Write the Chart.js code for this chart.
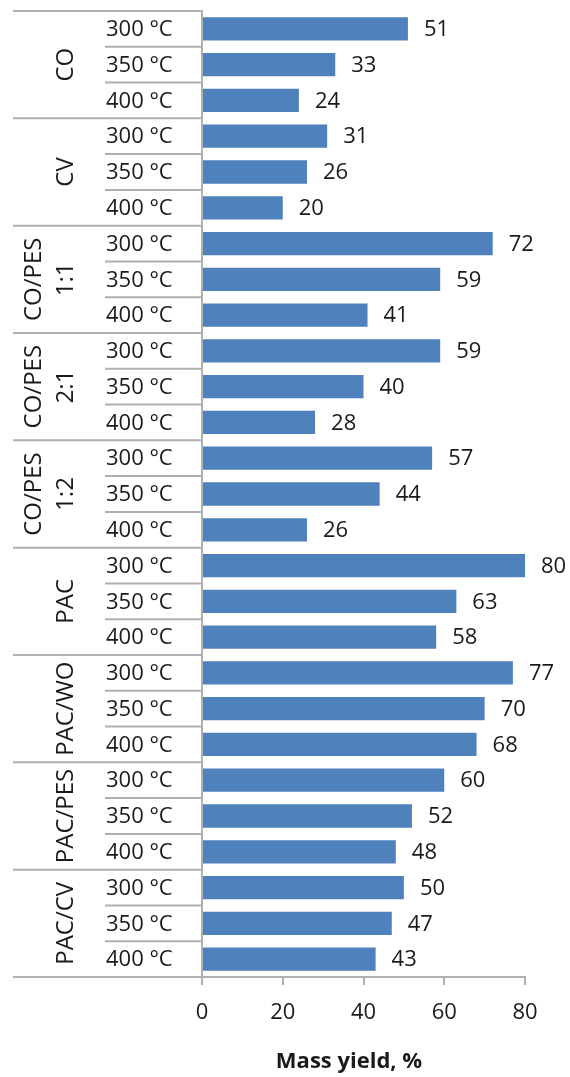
<!DOCTYPE html>
<html>
<head>
<meta charset="utf-8">
<script src="https://cdn.jsdelivr.net/npm/chart.js@4.4.1/dist/chart.umd.min.js"></script>
<style>
  html, body { margin: 0; padding: 0; background: #fff; }
  #wrap { width: 570px; height: 1077px; position: relative; }
</style>
</head>
<body>
<div id="wrap"><canvas id="c"></canvas></div>
<script>
// ---- data ----
const groups = [['CO'], ['CV'], ['CO/PES', '1:1'], ['CO/PES', '2:1'], ['CO/PES', '1:2'], ['PAC'], ['PAC/WO'], ['PAC/PES'], ['PAC/CV']];
const temps = ['300 °C', '350 °C', '400 °C'];
const yield300 = [51, 31, 72, 59, 57, 80, 77, 60, 50];
const yield350 = [33, 26, 59, 40, 44, 63, 70, 52, 47];
const yield400 = [24, 20, 41, 28, 26, 58, 68, 48, 43];
const xMin = 0, xMax = 80, xStep = 20;
const axisTitle = 'Mass yield, %';

// ---- build flat table ----
const labels = [];
const values = [];
const perTemp = [yield300, yield350, yield400];
groups.forEach((g, gi) => {
  temps.forEach((t, ti) => {
    labels.push(t);
    values.push(perTemp[ti][gi]);
  });
});

const FONT = 'Open Sans';
const TEXT = '#1a1a1a';
const LINE = '#b0b0b0';

const decor = {
  id: 'decor',
  afterDraw(chart) {
    const ctx = chart.ctx;
    const ys = chart.scales.y;
    const area = chart.chartArea;
    const n = labels.length;
    const centers = labels.map((_, i) => ys.getPixelForValue(i));
    const boundary = (i) => {
      if (i <= 0) return area.top;
      if (i >= n) return area.bottom;
      return (centers[i - 1] + centers[i]) / 2;
    };
    ctx.save();
    ctx.strokeStyle = LINE;
    ctx.lineWidth = 2;
    // separators
    for (let i = 0; i <= n; i++) {
      const y = boundary(i);
      const isGroup = i % temps.length === 0;
      ctx.beginPath();
      ctx.moveTo(isGroup ? 13 : 105, y);
      ctx.lineTo(area.left, y);
      ctx.stroke();
    }
    // sub labels
    ctx.fillStyle = TEXT;
    ctx.font = '22px "' + FONT + '"';
    ctx.textAlign = 'left';
    ctx.textBaseline = 'middle';
    labels.forEach((t, i) => ctx.fillText(t, 106, centers[i] + 1));
    // group labels (rotated)
    ctx.font = '24px "' + FONT + '"';
    ctx.textAlign = 'center';
    groups.forEach((g, gi) => {
      const y0 = boundary(gi * temps.length);
      const y1 = boundary((gi + 1) * temps.length);
      const cy = (y0 + y1) / 2;
      g.forEach((line, li) => {
        const cx = 65 - (g.length - 1 - li) * 32;
        ctx.save();
        ctx.translate(cx, cy);
        ctx.rotate(-Math.PI / 2);
        ctx.fillText(line, 0, 1);
        ctx.restore();
      });
    });
    // value labels
    ctx.font = '22px "' + FONT + '"';
    ctx.textAlign = 'left';
    const meta = chart.getDatasetMeta(0);
    meta.data.forEach((bar, i) => {
      ctx.fillText(String(values[i]), bar.x + 16, bar.y + 1);
    });
    // axis title
    ctx.font = 'bold 22px "' + FONT + '"';
    ctx.textAlign = 'center';
    ctx.fillText(axisTitle, 349, 1062);
    ctx.restore();
  }
};

new Chart(document.getElementById('c'), {
  type: 'bar',
  data: {
    labels: labels,
    datasets: [{
      data: values,
      backgroundColor: '#4f81bd',
      borderWidth: 0,
      categoryPercentage: 1.0,
      barPercentage: 0.65
    }]
  },
  options: {
    indexAxis: 'y',
    responsive: true,
    maintainAspectRatio: false,
    animation: false,
    layout: { padding: { top: 11, right: 45, left: 0, bottom: 0 } },
    plugins: { legend: { display: false }, tooltip: { enabled: false } },
    scales: {
      y: {
        type: 'category',
        ticks: { display: false },
        grid: { display: false },
        border: { display: true, color: LINE, width: 2 },
        afterFit(scale) { scale.width = 202; }
      },
      x: {
        min: xMin,
        max: xMax,
        ticks: {
          stepSize: xStep,
          padding: 15,
          color: TEXT,
          font: { family: FONT, size: 22 }
        },
        grid: {
          drawOnChartArea: false,
          drawTicks: true,
          tickLength: 8,
          color: LINE,
          lineWidth: 2
        },
        border: { display: true, color: LINE, width: 2 },
        title: { display: false },
        afterFit(scale) { scale.height = 100; }
      }
    }
  },
  plugins: [decor]
});
</script>
</body>
</html>
